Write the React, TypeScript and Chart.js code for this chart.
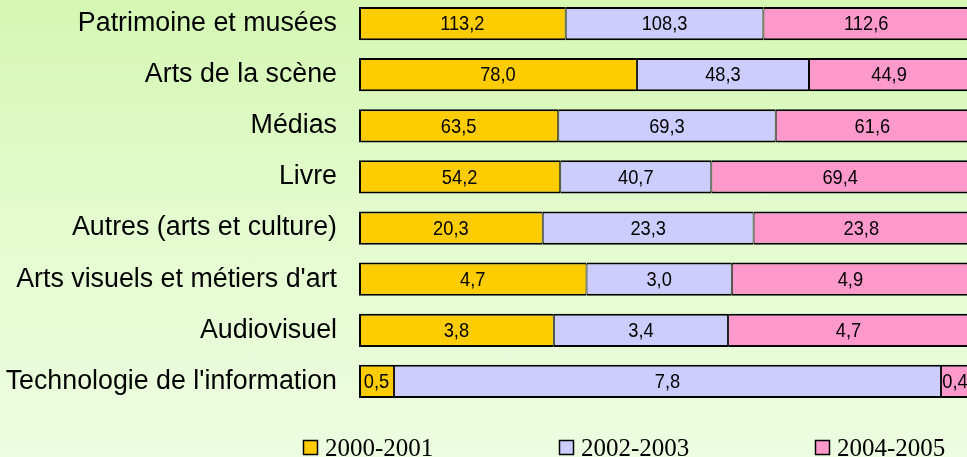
import { useEffect, useRef } from "react";
import { Chart, registerables } from "chart.js";

Chart.register(...registerables);

const categories = [
  "Patrimoine et musées",
  "Arts de la scène",
  "Médias",
  "Livre",
  "Autres (arts et culture)",
  "Arts visuels et métiers d'art",
  "Audiovisuel",
  "Technologie de l'information",
];

const seriesNames = ["2000-2001", "2002-2003", "2004-2005"];
const values2000 = [113.2, 78.0, 63.5, 54.2, 20.3, 4.7, 3.8, 0.5];
const values2002 = [108.3, 48.3, 69.3, 40.7, 23.3, 3.0, 3.4, 7.8];
const values2004 = [112.6, 44.9, 61.6, 69.4, 23.8, 4.9, 4.7, 0.4];
const seriesColors = ["#ffcc00", "#ccccff", "#ff99cc"];

const rawSeries = [values2000, values2002, values2004];
const totals = categories.map((_, i) => rawSeries.reduce((s, a) => s + a[i], 0));
const pctSeries = rawSeries.map((a) => a.map((v, i) => (v / totals[i]) * 100));

const fmt = (v: number) => v.toFixed(1).replace(".", ",");

const valueLabels = {
  id: "valueLabels",
  afterDatasetsDraw(chart: any) {
    const ctx = chart.ctx;
    ctx.save();
    ctx.fillStyle = "#000";
    ctx.font = "21px 'Liberation Sans', Arial, sans-serif";
    ctx.textAlign = "center";
    ctx.textBaseline = "middle";
    chart.data.datasets.forEach((ds: any, di: number) => {
      const meta = chart.getDatasetMeta(di);
      meta.data.forEach((el: any, i: number) => {
        const cx = (el.x + el.base) / 2;
        const cy = el.y + 1;
        ctx.save();
        ctx.translate(cx, cy);
        ctx.scale(0.87, 1);
        ctx.fillText(fmt(rawSeries[di][i]), 0, 0);
        ctx.restore();
      });
    });
    ctx.restore();
  },
};

const legendX = [303, 559, 815];
const customLegend = {
  id: "customLegend",
  afterDraw(chart: any) {
    const ctx = chart.ctx;
    ctx.save();
    seriesNames.forEach((name, i) => {
      const x = legendX[i];
      ctx.fillStyle = seriesColors[i];
      ctx.fillRect(x + 0.5, 442.5, 14, 14);
      ctx.strokeStyle = "#000";
      ctx.lineWidth = 1.5;
      ctx.strokeRect(x + 0.5, 442.5, 14, 14);
      ctx.fillStyle = "#000";
      ctx.font = "25px 'Liberation Serif', 'Times New Roman', serif";
      ctx.textAlign = "left";
      ctx.textBaseline = "alphabetic";
      ctx.fillText(name, x + 22, 458);
    });
    ctx.restore();
  },
};

export default function App() {
  const ref = useRef<HTMLCanvasElement>(null);
  useEffect(() => {
    if (!ref.current) return;
    const borders = [
      { top: 2, bottom: 2, left: 2, right: 1 },
      { top: 2, bottom: 2, left: 1, right: 1 },
      { top: 2, bottom: 2, left: 1, right: 2 },
    ];
    const chart = new Chart(ref.current, {
      type: "bar",
      data: {
        labels: categories,
        datasets: pctSeries.map((d, i) => ({
          label: seriesNames[i],
          data: d,
          backgroundColor: seriesColors[i],
          borderColor: "#000",
          borderWidth: borders[i] as any,
          borderSkipped: false as any,
          barPercentage: 0.65,
          categoryPercentage: 1,
        })),
      },
      options: {
        indexAxis: "y",
        animation: false,
        responsive: false,
        maintainAspectRatio: false,
        layout: { padding: { top: 0, bottom: 50, left: 0, right: 0 } },
        plugins: {
          legend: { display: false },
          tooltip: { enabled: false },
        },
        scales: {
          x: {
            stacked: true,
            min: 0,
            max: 100,
            display: false,
          },
          y: {
            stacked: true,
            grid: { display: false, drawTicks: false },
            border: { display: false },
            ticks: {
              color: "#000",
              padding: 22,
              font: { family: "'Liberation Sans', Arial, sans-serif", size: 26.8 },
            },
            afterFit(scale: any) {
              scale.width = 359;
              scale.paddingTop = 0;
              scale.paddingBottom = 0;
            },
          },
        },
      },
      plugins: [valueLabels, customLegend],
    });
    return () => chart.destroy();
  }, []);

  return (
    <div
      style={{
        position: "fixed",
        left: 0,
        top: 0,
        width: 967,
        height: 457,
        overflow: "hidden",
        background: "linear-gradient(to bottom, #d4f7b2 0%, #e4fbcf 50%, #edfde0 100%)",
      }}
    >
      <canvas
        ref={ref}
        width={969}
        height={459}
        style={{ position: "absolute", left: 0, top: -2, width: 969, height: 459 }}
      />
    </div>
  );
}
